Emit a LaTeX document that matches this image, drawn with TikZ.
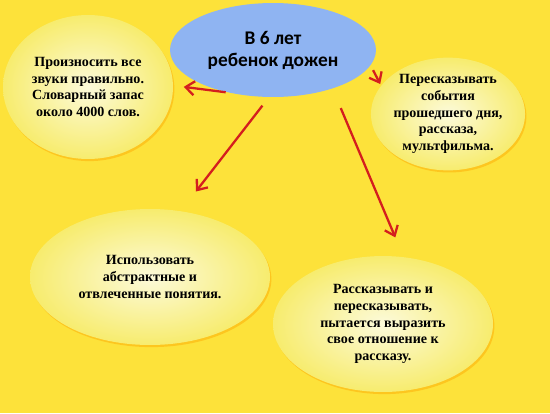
\documentclass[tikz,border=0pt]{standalone}
\usepackage{fontspec}
\setmainfont{Liberation Serif}
\newfontfamily\headfont{Carlito}
\usetikzlibrary{shapes.geometric,shadows,arrows.meta}
\definecolor{bgyellow}{RGB}{253,226,58}
\definecolor{ideaedge}{RGB}{247,236,110}
\definecolor{ideacore}{RGB}{252,250,218}
\definecolor{agecol}{RGB}{143,180,242}
\definecolor{arrowred}{RGB}{212,30,30}

\begin{document}
\begin{tikzpicture}[
    	x=0.02cm, y=-0.02cm,
    	idea/.style={ellipse, inner sep=0pt, align=center,
    	  shading=radial, inner color=ideacore, outer color=ideaedge,
    	  drop shadow={shadow xshift=0.8pt, shadow yshift=-1.2pt, fill=orange!70!yellow, opacity=0.45},
    	  font=\bfseries\fontsize{8}{9.6}\selectfont},
    	link/.style={draw=arrowred, line width=1.3pt, -{Straight Barb[length=5pt,width=8pt]}}
	]
	  \useasboundingbox (0,0) rectangle (550,413);
	  \fill[bgyellow] (0,0) rectangle (550,413);
      % centre
      \node[ellipse, fill=agecol, inner sep=0pt, minimum width=4.12cm, minimum height=1.88cm,
        align=center, font=\headfont\bfseries\fontsize{11}{12.5}\selectfont] (age) at (273,50) {В 6 лет\\ребенок дожен};
      % ideas
      \node[idea, minimum width=3.4cm, minimum height=2.88cm] (sounds) at (88,87)
        {Произносить все\\звуки правильно.\\Словарный запас\\около 4000 слов.};
      \node[idea, minimum width=3.08cm, minimum height=2.2cm] (retell) at (448,114)
        {Пересказывать\\события\\прошедшего дня,\\рассказа,\\мультфильма.};
      \node[idea, minimum width=4.8cm, minimum height=2.72cm] (abstract) at (150,277)
        {Использовать\\абстрактные и\\отвлеченные понятия.};
      \node[idea, minimum width=4.4cm, minimum height=2.72cm] (story) at (383,324)
        {Рассказывать и\\пересказывать,\\пытается выразить\\свое отношение к\\рассказу.};
      % arrows
      \draw[link, shorten <=1pt, shorten >=6pt] (age.223) -- (sounds.1);
      \draw[link, shorten <=6pt, shorten >=14pt] (age.265) -- (abstract.65);
      \draw[link, shorten <=3pt, shorten >=1pt] (age.-9) -- (retell.157);
      \draw[link, shorten <=12pt, shorten >=12pt] (age.-33) -- (story.73);
    \end{tikzpicture}
\end{document}
